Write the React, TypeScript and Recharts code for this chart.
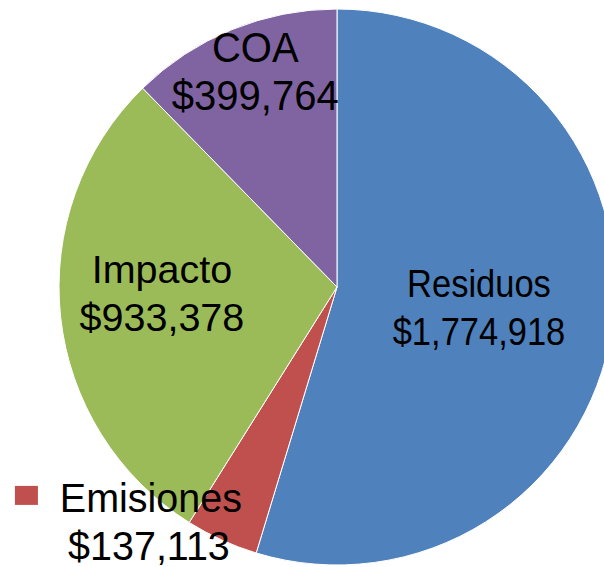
import { Cell, Pie, PieChart } from "recharts";

const categories = ["Residuos", "Emisiones", "Impacto", "COA"];
const values = [1774918, 137113, 933378, 399764];
const valueLabels = ["$1,774,918", "$137,113", "$933,378", "$399,764"];
const colors = ["#4F81BD", "#C0504D", "#9BBB59", "#8064A2"];

const data = categories.map((name, i) => ({
  name,
  value: values[i],
  label: valueLabels[i],
}));

// where each label sits: radial distance (fraction of radius), angle shift,
// font size and vertical stretch (the original text is a bit tall)
const labelPlacement: Record<
  string,
  { r: number; shift: number; size: number; sy: number }
> = {
  Residuos: { r: 0.512, shift: 4.4, size: 34.5, sy: 1.15 },
  Emisiones: { r: 1.05, shift: -15.1, size: 39.5, sy: 1.05 },
  Impacto: { r: 0.63, shift: -7.4, size: 39.5, sy: 1.0 },
  COA: { r: 0.861, shift: -2.2, size: 40, sy: 1.05 },
};

const RAD = Math.PI / 180;
const FONT = "'Liberation Sans', Arial, sans-serif";
const LINE_GAP = 48;

function SliceLabel(props: any) {
  const { cx, cy, midAngle, outerRadius, index } = props;
  const entry = data[index];
  const place = labelPlacement[entry.name];
  const angle = (midAngle + place.shift) * RAD;
  const x = cx + outerRadius * place.r * Math.cos(angle);
  const y = cy - outerRadius * place.r * Math.sin(angle);
  const isLegend = entry.name === "Emisiones";

  return (
    <g transform={`translate(${x},${y}) scale(1,${place.sy})`}>
      {isLegend && (
        <rect
          x={-136}
          y={-26 / place.sy}
          width={23}
          height={19 / place.sy}
          fill={colors[index]}
        />
      )}
      <text
        x={0}
        y={0}
        textAnchor="middle"
        fontFamily={FONT}
        fontSize={place.size}
        fill="#000"
      >
        {entry.name}
      </text>
      <text
        x={isLegend ? -2 : 0}
        y={LINE_GAP / place.sy}
        textAnchor="middle"
        fontFamily={FONT}
        fontSize={place.size}
        fill="#000"
      >
        {entry.label}
      </text>
    </g>
  );
}

export default function App() {
  return (
    <div
      style={{
        position: "absolute",
        left: 0,
        top: 0,
        width: 604,
        height: 567,
        background: "#fff",
      }}
    >
      <PieChart width={604} height={567} style={{ overflow: "hidden" }}>
        <Pie
          data={data}
          dataKey="value"
          nameKey="name"
          cx={332}
          cy={282}
          outerRadius={278}
          startAngle={90}
          endAngle={-270}
          stroke="#fff"
          strokeWidth={1}
          label={SliceLabel}
          labelLine={false}
          isAnimationActive={false}
        >
          {data.map((d, i) => (
            <Cell key={d.name} fill={colors[i]} />
          ))}
        </Pie>
      </PieChart>
    </div>
  );
}
